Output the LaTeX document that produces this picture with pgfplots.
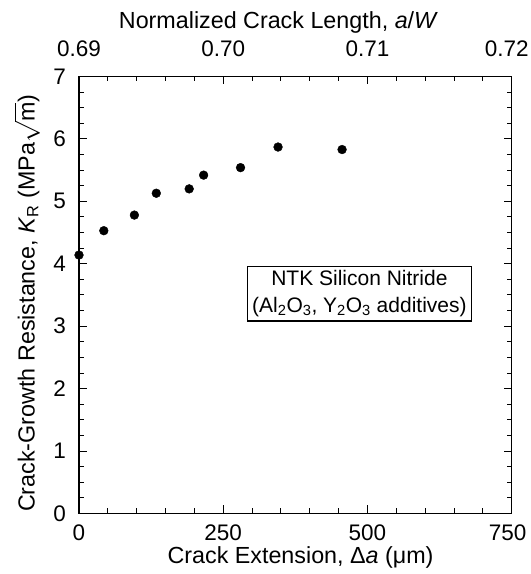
\documentclass[border=0pt]{standalone}
\usepackage{fontspec}
\setmainfont{Liberation Sans}
\usepackage{pgfplots}
\pgfplotsset{compat=1.18}
\begin{document}
\begin{tikzpicture}
\pgfplotsset{
  every axis/.append style={
    scale only axis, width=432.7pt, height=437pt,
    axis line style={line width=1.3pt},
    every tick/.style={black, line width=1pt},
    major tick length=8pt, minor tick length=5pt,
    tick align=inside,
    tick label style={font=\fontsize{22.5}{27}\selectfont, inner sep=2pt},
    label style={font=\fontsize{23.3}{28}\selectfont, inner sep=1pt},
    /pgf/number format/assume math mode=true,
  }
}
\begin{axis}[
  xmin=0, xmax=750, ymin=0, ymax=7,
  xtick={0,250,500,750}, minor x tick num=4,
  xticklabels={0,250,500,\hbox to 0pt{\hss 750\kern8pt\hss}},
  ytick={0,1,2,3,4,5,6,7}, minor y tick num=3,
  xtick pos=bottom, ytick pos=both,
  xticklabel style={yshift=-9.5pt},
  yticklabel style={xshift=-11pt},
  xlabel={Crack Extension, Δ\textit{a} (μm)},
  ylabel={Crack-Growth Resistance, \textit{K}\textsubscript{R} (MPa\smash{$\sqrt{\mathrm{m}}$})},
  xlabel style={at={(axis description cs:0.512,-0.1145)}, anchor=base},
  ylabel style={at={(axis description cs:-0.1165,0.481)}, anchor=center},
  clip=false,
]
\addplot[only marks, mark=*, mark size=4.4pt, black] coordinates {
(0,4.14) (43,4.53) (96,4.78) (134,5.13) (191,5.20) (216,5.42) (280,5.54) (345,5.87) (456,5.83)
};
\node[draw, line width=1.1pt, align=center, inner xsep=5pt, inner ysep=4pt,
  font=\fontsize{21}{27}\selectfont] at (axis cs:486,3.52)
  {NTK Silicon Nitride\\(Al\textsubscript{2}O\textsubscript{3}, Y\textsubscript{2}O\textsubscript{3} additives)};
\coordinate (ll) at (rel axis cs:0,0);
\coordinate (ur) at (rel axis cs:1,1);
\end{axis}
\begin{axis}[
  xmin=0.69, xmax=0.72, ymin=0, ymax=7,
  axis x line*=top, axis y line=none,
  xtick={0.69,0.70,0.71,0.72}, minor x tick num=4,
  xticklabels={0.69,0.70,0.71,\hbox to 0pt{\hss 0.72\kern10pt\hss}},
  xticklabel style={yshift=17.8pt},
  xlabel={Normalized Crack Length, \textit{a}/\textit{W}},
  xlabel style={at={(axis description cs:0.461,1.1103)}, anchor=base},
]
\end{axis}
\pgfresetboundingbox
\path ([shift={(-79pt,-60.5pt)}]ll) rectangle ([shift={(19.3pt,76.5pt)}]ur);
\end{tikzpicture}
\end{document}
